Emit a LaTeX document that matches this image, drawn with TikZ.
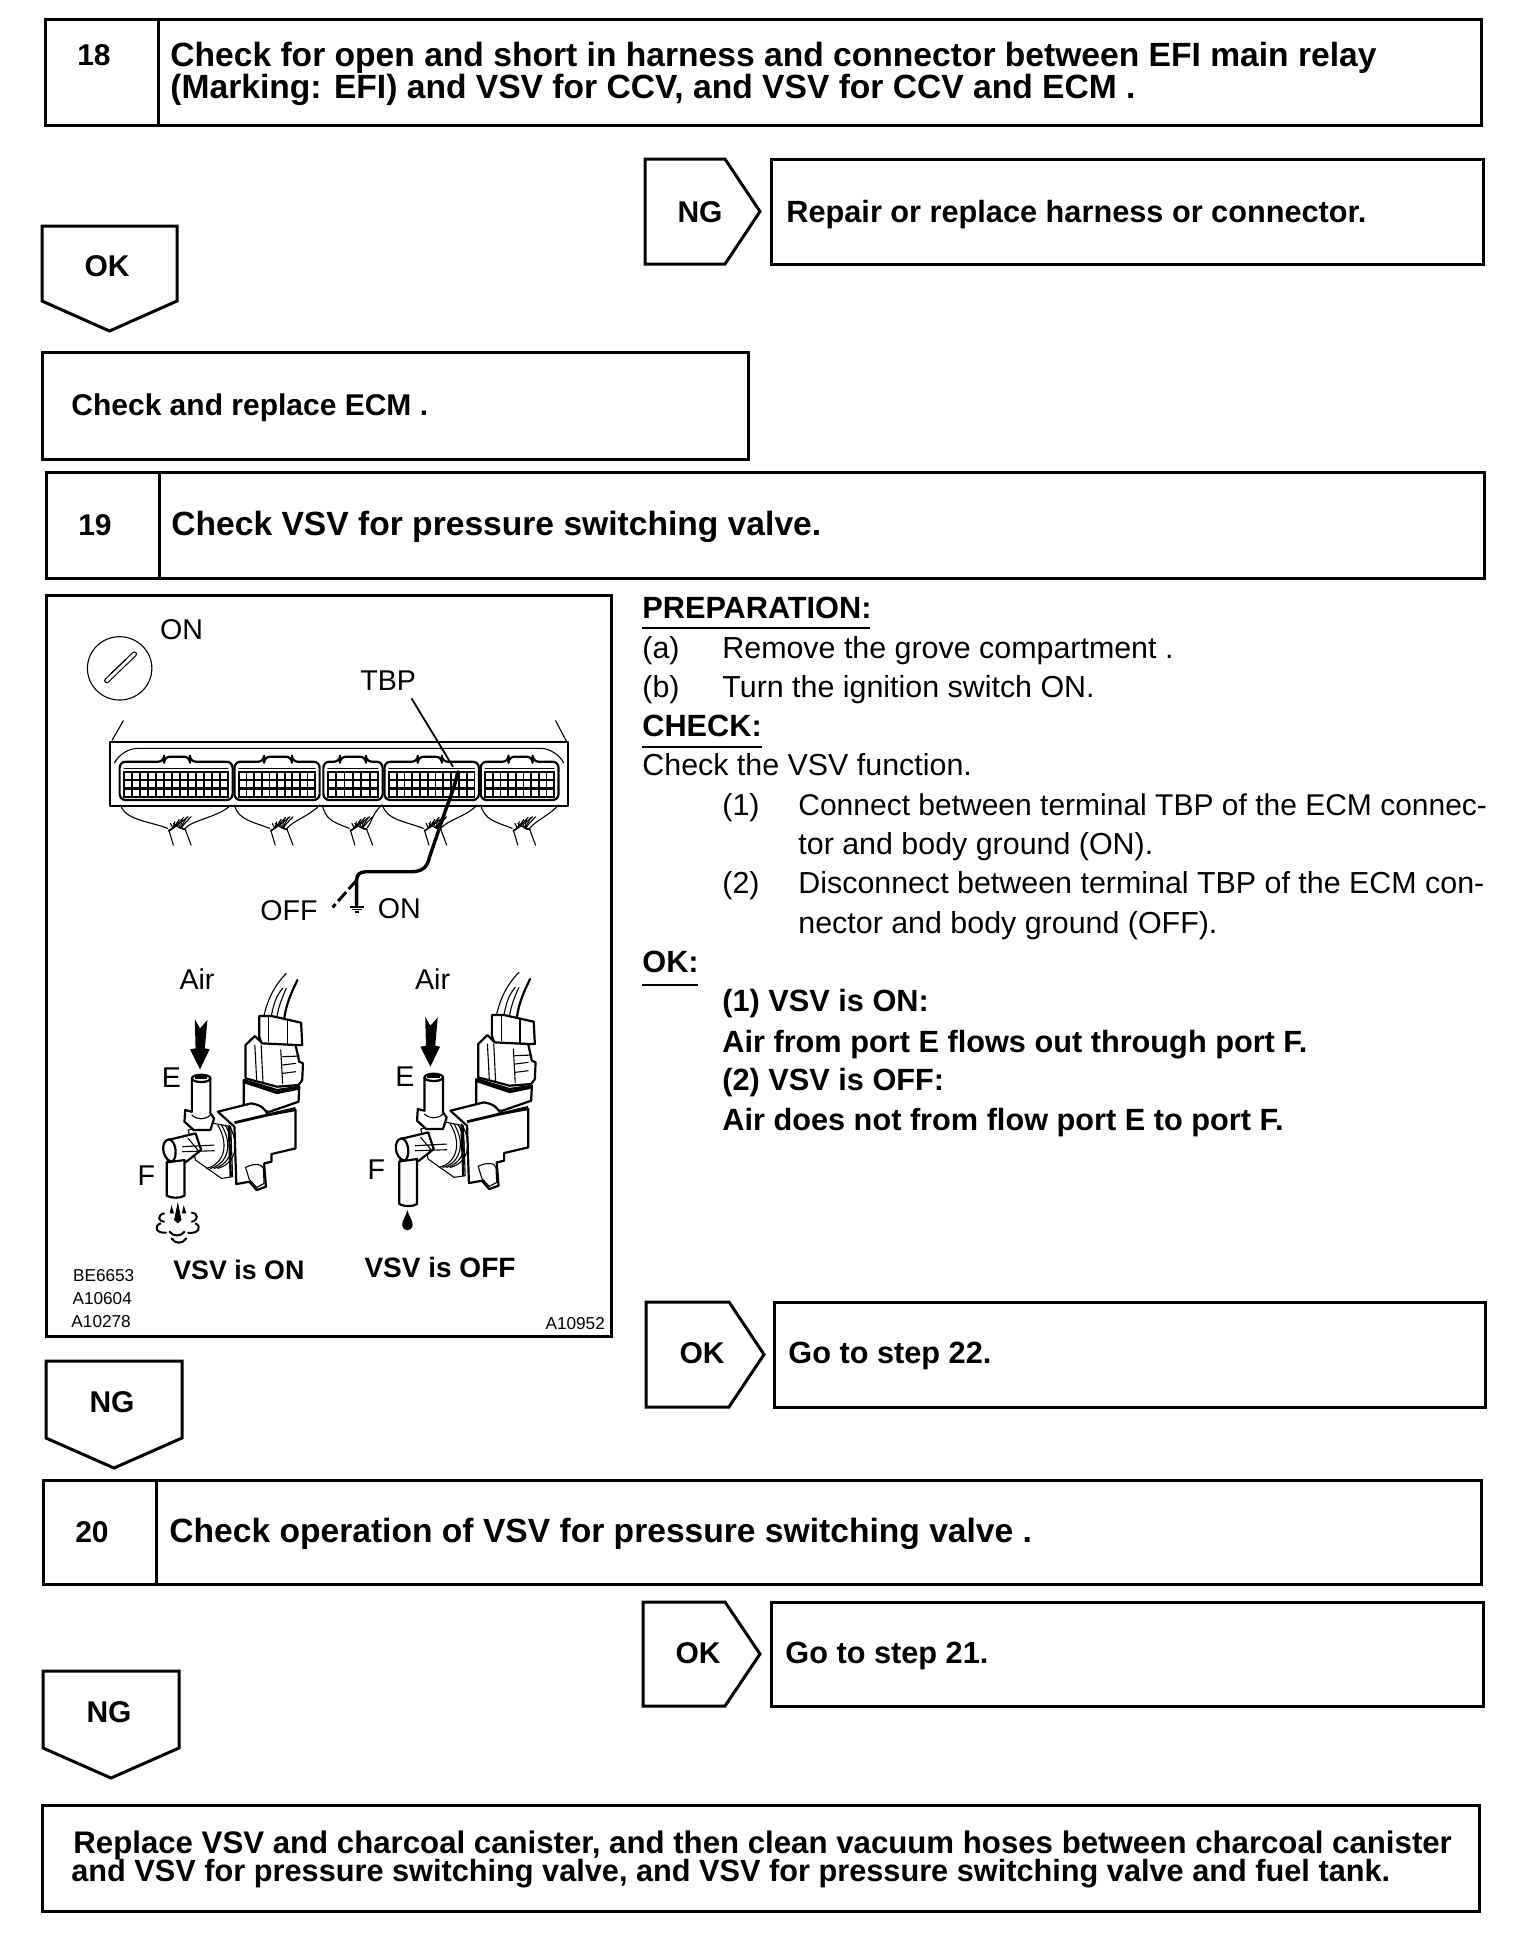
\documentclass[tikz,border=0pt]{standalone}
\usepackage{fontspec}
\setmainfont{Liberation Sans}
\newcommand{\bodysize}{\fontsize{15}{18}\selectfont}
\newcommand{\titlesize}{\fontsize{16.8}{20}\selectfont}
\newcommand{\longsize}{\fontsize{15.6}{18}\selectfont}
\newcommand{\stepsize}{\fontsize{15.35}{18}\selectfont}
\newcommand{\plainsize}{\fontsize{15.2}{18}\selectfont}
\newcommand{\figsize}{\fontsize{14.3}{18}\selectfont}
\tikzset{
  frameline/.style={draw=black,line width=1.5pt,line join=miter},
  boldtext/.style={anchor=base west,inner sep=0pt,yshift=1pt,font=\stepsize\bfseries},
  ecmtext/.style={anchor=base west,inner sep=0pt,yshift=1pt,font=\bodysize\bfseries},
  titletext/.style={anchor=base west,inner sep=0pt,yshift=1pt,font=\titlesize\bfseries},
  longtext/.style={anchor=base west,inner sep=0pt,yshift=1pt,font=\longsize\bfseries},
  boldmid/.style={anchor=base,inner sep=0pt,yshift=1pt,font=\bodysize\bfseries},
  plaintext/.style={anchor=base west,inner sep=0pt,yshift=1pt,font=\plainsize},
  plainnarrow/.style={anchor=base west,inner sep=0pt,yshift=1pt,font=\bodysize},
  figtext/.style={anchor=center,inner sep=0pt,font=\figsize},
  figbold/.style={anchor=center,inner sep=0pt,font=\fontsize{13.4}{18}\selectfont\bfseries},
  figboldb/.style={anchor=center,inner sep=0pt,font=\fontsize{14}{18}\selectfont\bfseries},
  codetext/.style={anchor=center,inner sep=0pt,font=\fontsize{8.6}{10}\selectfont},
  ill/.style={line width=.55pt,line join=round,line cap=round},
  illthick/.style={line width=1.1pt,line join=round,line cap=round},
}
\newcommand{\stepframe}[5]{\draw[frameline] (#1,#4) rectangle (#2,#5); \draw[frameline] (#3,#4) -- (#3,#5);}
\newcommand{\rtag}[4]{\draw[frameline] (#1,#3) -- (#2-35,#3) -- (#2,#3/2+#4/2) -- (#2-35,#4) -- (#1,#4) -- cycle;}
\newcommand{\dtag}[5]{\draw[frameline] (#1,#3) -- (#2,#3) -- (#2,#5) -- (#1/2+#2/2,#4) -- (#1,#5) -- cycle;}
\newcommand{\ecmsec}[5]{%
  \draw[illthick,rounded corners=3pt] (#1,630) -- (#1,515) -- (#3,515) -- (#3,500) -- (#4,500) -- (#4,515) -- (#2,515) -- (#2,630) -- cycle;
  \draw[ill] (#1+12,535) -- (#2-12,535);
  \foreach \i in {0,...,#5}{
    \foreach \r in {545,571,597}{
      \draw[line width=.9pt] ({#1+12+\i*(#2-#1-24)/(#5+1)},\r) rectangle ++({(#2-#1-24)/(#5+1)},24);
    }
  }
}
\newcommand{\wirefan}[3]{%
  \draw[ill] (#1,645) .. controls (#1+10,690) and (#3-70,695) .. (#3-25,715);
  \draw[ill] (#2,645) .. controls (#2-30,680) and (#3+40,690) .. (#3+22,715);
  \draw[ill] (#3-22,720) -- (#3-10,765);
  \draw[ill] (#3+22,718) -- (#3+38,765);
  \foreach \a/\b in {-30/700,-18/695,-6/688,6/682,18/680}{
    \draw[ill] (#3-22,722) .. controls (#3-10,715) .. (#3+\a+12,\b);
    \draw[ill] (#3+22,718) .. controls (#3+8,715) .. (#3+\a+20,\b);
  }
}
\newcommand{\valve}[3]{%
\begin{scope}[shift={(#1,#2)}]
  \draw[ill] (605,255) .. controls (615,210) and (630,170) .. (665,130);
  \draw[ill] (625,255) .. controls (632,215) and (640,195) .. (655,175);
  \draw[ill] (640,258) .. controls (645,225) and (655,200) .. (665,175);
  \draw[illthick] (660,262) .. controls (665,220) and (680,185) .. (695,150);
  \draw[illthick,fill=white] (592,258) -- (625,258) -- (705,278) -- (708,345) -- (600,345) -- (592,320) -- cycle;
  \draw[ill] (618,262) -- (618,335) (668,268) -- (668,345);
  \draw[illthick,fill=white] (555,345) -- (580,318) -- (600,340) -- (690,345) -- (700,395) -- (710,400) -- (708,450) -- (698,465) -- (640,470) -- (555,445) -- cycle;
  \draw[ill] (580,345) -- (585,450) (597,345) -- (602,455) (655,380) -- (700,378) (655,405) -- (690,400) (655,430) -- (690,425) (650,360) -- (655,460);
  \draw[illthick,fill=white] (550,450) -- (640,480) -- (700,470) -- (698,515) -- (620,545) -- (550,540) -- cycle;
  \draw[line width=1.4pt] (550,455) -- (640,488) -- (698,475);
  \draw[illthick,fill=white] (480,545) -- (570,520) .. controls (600,525) and (610,540) .. (615,555) -- (690,540) -- (690,655) -- (625,672) -- (625,695) -- (605,700) -- (610,770) -- (585,780) -- (565,755) -- (530,762) -- (525,590) -- cycle;
  \draw[line width=1.4pt] (525,578) -- (690,535);
  \draw[ill,fill=white] (555,712) .. controls (575,700) and (600,700) .. (603,715) -- (605,760) -- (585,772) -- (565,748) -- cycle;
  \draw[ill,fill=white] (470,580) -- (515,590) -- (520,740) -- (490,745) -- (420,690) -- (400,600) -- cycle;
  \foreach \d in {0,10,20,30}{\draw[ill] (480+\d,585) .. controls (510+\d,640) and (500+\d,700) .. (450+\d,715);}
  \draw[line width=1.2pt] (510,590) -- (515,740);
  \draw[illthick,fill=white] (410,445) -- (410,545) -- (392,540) -- (390,575) -- (415,600) -- (460,600) -- (470,565) -- (460,550) -- (460,445) -- cycle;
  \draw[ill] (410,555) .. controls (425,570) and (445,570) .. (460,555);
  \draw[illthick,fill=white] (435,445) ellipse (25 and 11);
  \draw[line width=1.4pt] (418,442) -- (452,442);
  \draw[illthick,fill=white] (345,630) -- (420,610) -- (435,660) -- (395,695) -- (345,695) -- cycle;
  \draw[ill] (385,650) -- (470,645) (385,665) -- (470,662) (400,625) -- (430,665);
  \draw[illthick,fill=white] (348,628) .. controls (325,632) and (328,685) .. (355,695) .. controls (372,690) and (370,632) .. (348,628);
  \draw[illthick,fill=white] (342,697) -- (342,#3) .. controls (355,#3+8) and (378,#3+8) .. (390,#3) -- (390,690) -- cycle;
\end{scope}}
\newcommand{\airarrow}[2]{\fill[black,shift={(#1,#2)}] (418,268) -- (432,295) -- (452,270) -- (445,355) -- (458,358) -- (432,418) -- (405,358) -- (420,355) -- cycle;}
\begin{document}
\begin{tikzpicture}[x=.5pt,y=-.5pt]
\useasboundingbox (0,0) rectangle (1536,1944);
\fill[white] (0,0) rectangle (1536,1944);
\stepframe{45}{1481}{158}{19}{125}
\node[boldmid] (n18) at (94,67) {18};
\node[titletext] (t18a) at (170,68) {Check for open and short in harness and connector between EFI main relay};
\node[titletext] (t18b) at (170,100) {(Marking: EFI) and VSV for CCV, and VSV for CCV and ECM .};
\rtag{645}{760}{159}{264}
\node[boldmid] (ng18) at (700,224) {NG};
\draw[frameline] (771,159) rectangle (1483,264);
\node[boldtext] (r18) at (786,224) {Repair or replace harness or connector.};
\dtag{42}{177}{226}{331}{301}
\node[boldmid] (ok18) at (107,278) {OK};
\draw[frameline] (42,352) rectangle (748,459);
\node[ecmtext] (ecm) at (71,417) {Check and replace ECM .};
\stepframe{46}{1484}{159}{472}{578}
\node[boldmid] (n19) at (95,537) {19};
\node[titletext] (t19) at (171,537) {Check VSV for pressure switching valve.};
\draw[frameline] (46,595) rectangle (611,1336);
\begin{scope}[shift={(40,590)},x=.1852pt,y=-.1667pt]
  \node[figtext] (fon) at (382,118) {ON};
  \draw[ill] (215,235) ellipse (87 and 95);
  \draw[line width=2.6pt,line cap=round] (180,272) -- (255,192);
  \draw[white,line width=1.5pt,line cap=round] (180,272) -- (255,192);
  \draw[ill] (192,250) -- (232,208);
  \node[figtext] (ftbp) at (940,272) {TBP};
  \draw[ill] (225,392) -- (195,450) (1392,392) -- (1422,455);
  \draw[illthick] (190,455) rectangle (1425,648);
  \draw[ill,rounded corners=8pt] (205,510) -- (220,475) -- (1395,475) -- (1410,510);
  \ecmsec{215}{520}{335}{405}{12}
  \ecmsec{525}{755}{605}{680}{9}
  \ecmsec{765}{925}{810}{880}{5}
  \ecmsec{930}{1185}{1020}{1085}{10}
  \ecmsec{1190}{1400}{1265}{1330}{8}
  \wirefan{218}{515}{370}
  \wirefan{525}{755}{645}
  \wirefan{762}{922}{860}
  \wirefan{925}{1180}{1060}
  \wirefan{1190}{1400}{1300}
  \draw[line width=.9pt] (1003,325) -- (1115,530);
  \draw[line width=1.7pt,line cap=round] (1128,545) .. controls (1120,590) and (1105,630) .. (1095,660) -- (1052,800) .. controls (1045,835) and (1030,845) .. (1000,845) -- (880,845) .. controls (862,845) and (855,855) .. (855,870) -- (855,945);
  \draw[line width=1.5pt,dash pattern=on 6pt off 2pt] (855,870) -- (790,952);
  \draw[line width=.8pt] (836,950) -- (876,950) (843,958) -- (869,958) (850,965) -- (862,965);
  \node[figtext] (foff) at (672,962) {OFF};
  \node[figtext] (fon2) at (970,955) {ON};
\end{scope}
\begin{scope}[shift={(40,930)},x=.1852pt,y=-.1667pt]
  \node[figtext] (air1) at (424,148) {Air};
  \node[figtext] (air2) at (1060,148) {Air};
  \valve{0}{0}{797}
  \valve{628}{-3}{825}
  \airarrow{0}{0}
  \airarrow{622}{-8}
  \node[figtext] (e1) at (355,443) {E};
  \node[figtext] (f1) at (287,738) {F};
  \node[figtext] (e2) at (985,440) {E};
  \node[figtext] (f2) at (908,718) {F};
  \fill[black] (372,815) -- (382,870) -- (372,880) -- (362,870) -- cycle;
  \fill[black] (355,825) -- (362,850) -- (350,850) -- cycle;
  \fill[black] (388,825) -- (395,850) -- (383,850) -- cycle;
  \draw[line width=1pt,line cap=round] (335,850) .. controls (315,855) and (320,875) .. (335,875)
    (325,880) .. controls (305,890) and (315,910) .. (340,908)
    (350,905) .. controls (360,920) and (380,920) .. (390,905)
    (355,925) .. controls (365,942) and (385,942) .. (395,925)
    (410,848) .. controls (428,850) and (428,870) .. (410,875)
    (420,880) .. controls (438,890) and (428,912) .. (400,908);
  \fill[black] (992,840) .. controls (996,860) and (1007,870) .. (1006,885) .. controls (1004,906) and (980,906) .. (978,885) .. controls (977,870) and (988,860) .. (992,840) -- cycle;
  \node[figbold] (von) at (537,1018) {VSV is ON};
  \node[figboldb] (voff) at (1080,1012) {VSV is OFF};
  \node[codetext] (c1) at (172,1036) {BE6653};
  \node[codetext] (c2) at (168,1106) {A10604};
  \node[codetext] (c3) at (165,1175) {A10278};
  \node[codetext] (c4) at (1445,1179) {A10952};
\end{scope}
\node[boldtext] (prep) at (642,620) {PREPARATION:};
\draw[line width=.9pt] (642,628) -- (870,628);
\node[plaintext] (pa1) at (642,660) {(a)};
\node[plaintext] (pa2) at (722,660) {Remove the grove compartment .};
\node[plaintext] (pb1) at (642,699) {(b)};
\node[plaintext] (pb2) at (722,699) {Turn the ignition switch ON.};
\node[boldtext] (chk) at (642,738) {CHECK:};
\draw[line width=.9pt] (642,747) -- (762,747);
\node[plaintext] (c0) at (642,777) {Check the VSV function.};
\node[plaintext] (c1a) at (722,817) {(1)};
\node[plainnarrow] (c1b) at (798,817) {Connect between terminal TBP of the ECM connec-};
\node[plaintext] (c1c) at (798,856) {tor and body ground (ON).};
\node[plaintext] (c2a) at (722,895) {(2)};
\node[plaintext] (c2b) at (798,895) {Disconnect between terminal TBP of the ECM con-};
\node[plaintext] (c2c) at (798,935) {nector and body ground (OFF).};
\node[boldtext] (okh) at (642,974) {OK:};
\draw[line width=.9pt] (642,985) -- (698,985);
\node[boldtext] (o1) at (722,1013) {(1) VSV is ON:};
\node[boldtext] (o2) at (722,1054) {Air from port E flows out through port F.};
\node[boldtext] (o3) at (722,1092) {(2) VSV is OFF:};
\node[boldtext] (o4) at (722,1132) {Air does not from flow port E to port F.};
\rtag{646}{764}{1302}{1407}
\node[boldmid] (ok19) at (702,1365) {OK};
\draw[frameline] (774,1302) rectangle (1485,1407);
\node[boldtext] (g22) at (788,1365) {Go to step 22.};
\dtag{46}{182}{1361}{1468}{1438}
\node[boldmid] (ng19) at (112,1414) {NG};
\stepframe{43}{1481}{156}{1480}{1584}
\node[boldmid] (n20) at (92,1544) {20};
\node[titletext] (t20) at (169,1544) {Check operation of VSV for pressure switching valve .};
\rtag{643}{760}{1602}{1706}
\node[boldmid] (ok20) at (698,1665) {OK};
\draw[frameline] (771,1602) rectangle (1483,1706);
\node[boldtext] (g21) at (785,1665) {Go to step 21.};
\dtag{43}{179}{1671}{1778}{1748}
\node[boldmid] (ng20) at (109,1724) {NG};
\draw[frameline] (42,1805) rectangle (1479,1911);
\node[longtext] (last1) at (73,1855) {Replace VSV and charcoal canister, and then clean vacuum hoses between charcoal canister};
\node[boldtext] (last2) at (71,1883) {and VSV for pressure switching valve, and VSV for pressure switching valve and fuel tank.};
\end{tikzpicture}
\end{document}
